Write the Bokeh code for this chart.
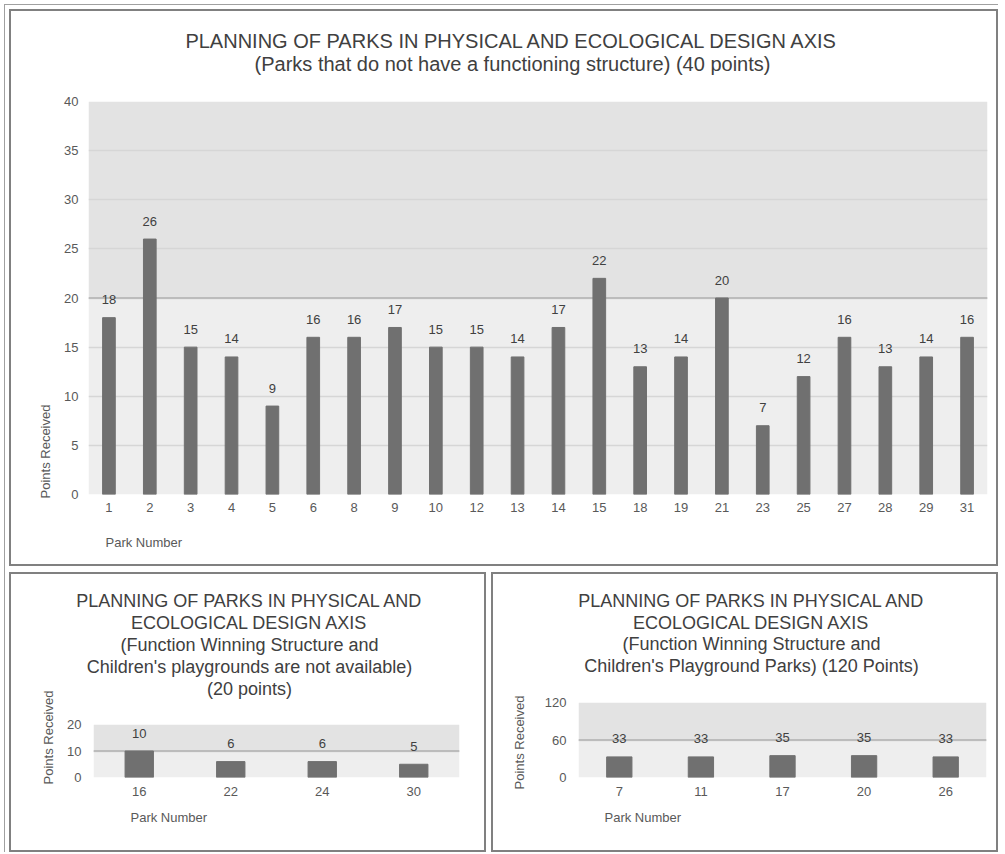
import math
from bokeh.plotting import figure
from bokeh.models import (ColumnDataSource, LabelSet, BoxAnnotation, Span, FixedTicker,
                          Range1d, Plot)
from bokeh.layouts import column, row
from bokeh.embed import file_html
from bokeh.resources import INLINE
from bokeh.core.properties import value

# ---------------- data ----------------
top_parks = ["1", "2", "3", "4", "5", "6", "8", "9", "10", "12", "13", "14", "15",
             "18", "19", "21", "23", "25", "27", "28", "29", "31"]
top_points = [18, 26, 15, 14, 9, 16, 16, 17, 15, 15, 14, 17, 22, 13, 14, 20, 7, 12, 16, 13, 14, 16]
top_ticks = [0, 5, 10, 15, 20, 25, 30, 35, 40]
top_title = ["PLANNING OF PARKS IN PHYSICAL AND ECOLOGICAL DESIGN AXIS",
             "(Parks that do not have a functioning structure) (40 points)"]

bl_parks = ["16", "22", "24", "30"]
bl_points = [10, 6, 6, 5]
bl_ticks = [0, 10, 20]
bl_title = ["PLANNING OF PARKS IN PHYSICAL AND", "ECOLOGICAL DESIGN AXIS",
            "(Function Winning Structure and", "Children's playgrounds are not available)",
            "(20 points)"]

br_parks = ["7", "11", "17", "20", "26"]
br_points = [33, 33, 35, 35, 33]
br_ticks = [0, 60, 120]
br_title = ["PLANNING OF PARKS IN PHYSICAL AND", "ECOLOGICAL DESIGN AXIS",
            "(Function Winning Structure and", "Children's Playground Parks) (120 Points)"]

x_label = "Park Number"
y_label = "Points Received"

FONT = "Liberation Sans"
TITLE_C = "#404040"
TICK_C = "#595959"
BAR_C = "#707070"
HAS_FRAME_ALIGN = "frame_align" in Plot.properties()


def no_align(f):
    if HAS_FRAME_ALIGN:
        f.frame_align = False
    return f


def text_fig(w, h, xs, ys, texts, align, size, angle=0.0, color=TITLE_C):
    f = figure(width=w, height=h, x_range=Range1d(0, w), y_range=Range1d(0, h),
               output_backend="svg", toolbar_location=None,
               x_axis_type=None, y_axis_type=None, min_border=0,
               min_border_left=0, min_border_right=0,
               min_border_top=0, min_border_bottom=0)
    no_align(f)
    f.outline_line_color = None
    f.background_fill_color = "white"
    f.border_fill_color = "white"
    f.text(x=xs, y=[h - y for y in ys], text=texts, angle=angle,
           text_align=align, text_baseline="middle",
           text_font=value(FONT), text_font_size=value(size), text_color=color)
    return f


def chart(parks, points, ticks, w, h, bl, br, bt, bb, ystand, xstand):
    ymax = ticks[-1]
    half = ymax / 2
    p = figure(width=w, height=h, x_range=parks, y_range=(0, ymax),
               output_backend="svg", toolbar_location=None,
               min_border_left=bl, min_border_right=br,
               min_border_top=bt, min_border_bottom=bb)
    no_align(p)
    p.outline_line_color = None
    p.background_fill_color = "white"
    p.border_fill_color = "white"

    p.add_layout(BoxAnnotation(bottom=half, top=ymax, fill_color="#e3e3e3", fill_alpha=1,
                               line_alpha=0, level="image"))
    p.add_layout(BoxAnnotation(bottom=0, top=half, fill_color="#eeeeee", fill_alpha=1,
                               line_alpha=0, level="image"))

    p.xgrid.grid_line_color = None
    p.ygrid.grid_line_color = "#d6d6d6"
    p.ygrid.grid_line_width = 1.5
    p.ygrid.level = "underlay"
    p.add_layout(Span(location=half, dimension="width", line_color="#bcbcbc",
                      line_width=2, level="underlay"))

    src = ColumnDataSource(dict(park=parks, points=points))
    p.vbar(x="park", top="points", width=0.31, source=src,
           fill_color=BAR_C, line_color=BAR_C)
    p.add_layout(LabelSet(x="park", y="points", text="points", source=src,
                          y_offset=18, text_align="center", text_baseline="middle",
                          text_font=value(FONT), text_font_size=value("13px"),
                          text_color=TITLE_C))

    for ax in (p.xaxis, p.yaxis):
        ax.axis_line_color = None
        ax.major_tick_line_color = None
        ax.minor_tick_line_color = None
        ax.major_tick_out = 0
        ax.major_tick_in = 0
        ax.minor_tick_out = 0
        ax.minor_tick_in = 0
        ax.axis_label_standoff = 0
        ax.major_label_text_font = FONT
        ax.major_label_text_font_size = "13px"
        ax.major_label_text_color = TICK_C
    p.yaxis.ticker = FixedTicker(ticks=ticks)
    p.yaxis.major_label_standoff = ystand
    p.xaxis.major_label_standoff = xstand
    return p


def panel(parks, points, ticks, title_lines, W, H, fl, fr, ft, fb, ylw,
          title_cx, title_ys, title_size, ylab_pos, xlab_pos, ystand, xstand):
    tb, bb = 10, 30
    T = ft - tb
    XB = fb - bb
    Hc = H - T - XB
    cw = W - ylw
    c = chart(parks, points, ticks, cw, Hc, fl - ylw, fr, tb, bb, ystand, xstand)
    t = text_fig(cw, T, [title_cx - ylw] * len(title_lines), title_ys, title_lines,
                 "center", title_size, color=TITLE_C)
    xl = text_fig(cw, XB, [xlab_pos[0] - ylw], [xlab_pos[1] - (H - XB)], [x_label],
                  "left", "13px", color=TICK_C)
    yl = text_fig(ylw, H, [ylab_pos[0]], [ylab_pos[1]], [y_label],
                  "center", "13px", angle=math.pi / 2, color=TICK_C)
    return row(yl, column(t, c, xl, spacing=0), spacing=0,
               styles={"border": "2px solid #808080"})


top = panel(top_parks, top_points, top_ticks, top_title, 985, 553, 77, 9, 90, 70, 48,
            501, [29, 52], "20px", (34, 440), (94, 531), 10, 8)
bl = panel(bl_parks, bl_points, bl_ticks, bl_title, 473, 276, 82, 25, 150, 73, 50,
           238, [26, 48, 70, 92, 114], "18px", (37, 163), (119, 243), 12, 9)
br = panel(br_parks, br_points, br_ticks, br_title, 503, 276, 85, 10, 128, 73, 45,
           258, [26, 48, 69, 91], "18px", (26, 168), (111, 243), 12, 9)

layout = column(top, row(bl, br, spacing=5), spacing=6,
                styles={"margin": "4px 0 0 4px", "padding": "4px 0 0 4px",
                        "border-top": "1px solid #a0a0a0",
                        "border-left": "1px solid #a0a0a0"})

open("out.html", "w").write(file_html(layout, INLINE))
